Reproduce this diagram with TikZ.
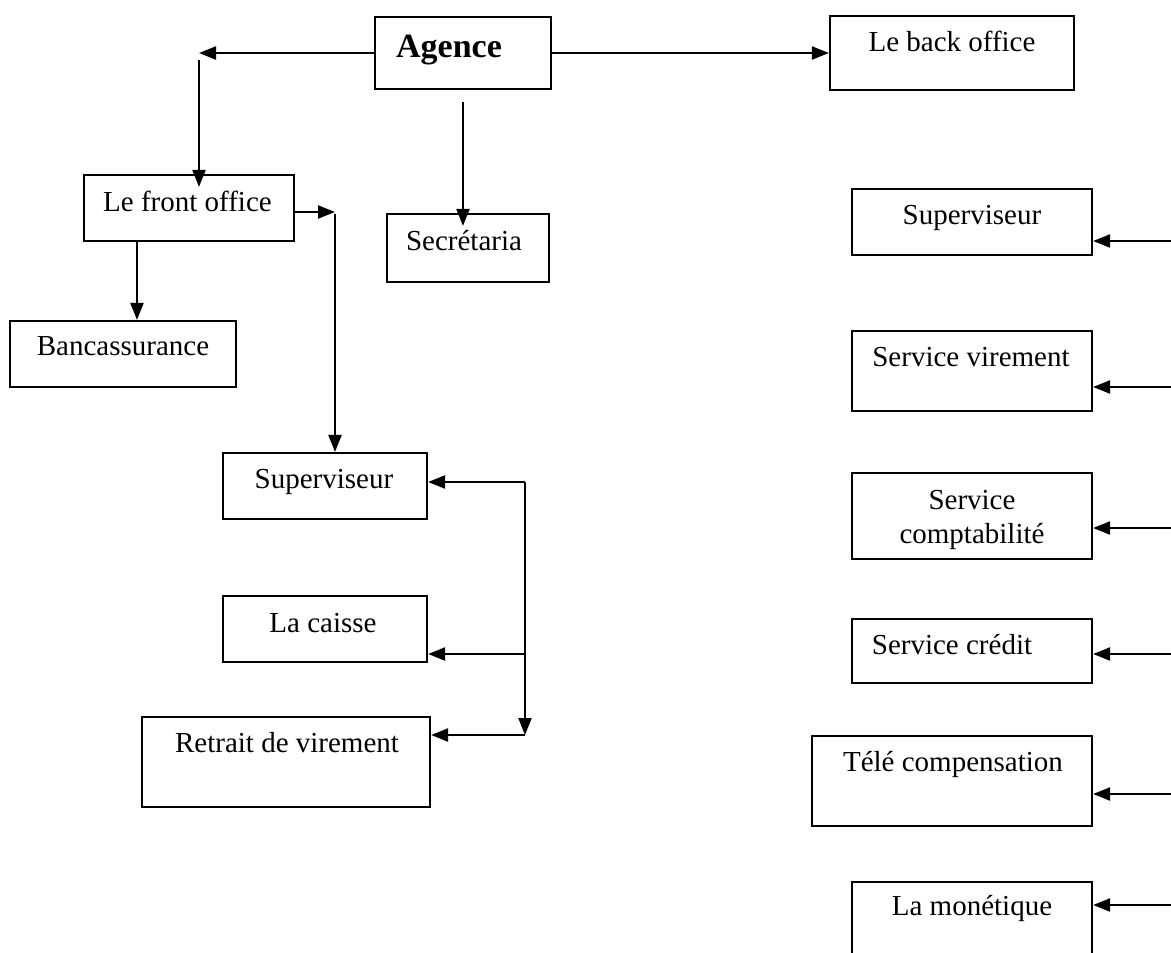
\documentclass[tikz,border=0pt]{standalone}
\usepackage{fontspec}
\setmainfont{Liberation Serif}
\usetikzlibrary{arrows.meta}

\begin{document}
\begin{tikzpicture}[x=1pt, y=-1pt,
  box/.style={draw, line width=2.2pt, inner sep=0pt, minimum width=#1},
  lbl/.style={anchor=base, inner sep=0pt, font=\fontsize{29}{34}\selectfont},
  conn/.style={line width=2.2pt, -{Triangle[length=17pt, width=13pt]}}
]
\useasboundingbox (0,0) rectangle (1171,953);
\clip (0,0) rectangle (1171,953);
\fill[white] (0,0) rectangle (1171,953);

% ---------- boxes ----------
\node[box=176pt, minimum height=72pt] (ag)  at (463,53)    {};
\node[box=244pt, minimum height=74pt] (bo)  at (952,53)    {};
\node[box=210pt, minimum height=66pt] (fo)  at (189,208)   {};
\node[box=162pt, minimum height=68pt] (sec) at (468,248)   {};
\node[box=226pt, minimum height=66pt] (ban) at (123,354)   {};
\node[box=204pt, minimum height=66pt] (sl)  at (325,486)   {};
\node[box=204pt, minimum height=66pt] (cai) at (325,629)   {};
\node[box=288pt, minimum height=90pt] (ret) at (286,762)   {};
\node[box=240pt, minimum height=66pt] (sr)  at (972,222)   {};
\node[box=240pt, minimum height=80pt] (vir) at (972,371)   {};
\node[box=240pt, minimum height=86pt] (cpt) at (972,516)   {};
\node[box=240pt, minimum height=64pt] (cre) at (972,651)   {};
\node[box=280pt, minimum height=90pt] (tel) at (952,781)   {};
\node[box=240pt, minimum height=80pt] (mon) at (972,922)   {};

% ---------- texts ----------
\node[anchor=base, inner sep=0pt, font=\fontsize{34}{40}\selectfont\bfseries] (ag-t) at (449,57) {Agence};
\node[lbl] (bo-t)   at (952,51)  {Le back office};
\node[lbl] (fo-t)   at (187.5,211) {Le front office};
\node[lbl] (sec-t)  at (464,250) {Secrétaria};
\node[lbl] (ban-t)  at (123,355) {Bancassurance};
\node[lbl] (sl-t)   at (324,488) {Superviseur};
\node[lbl] (cai-t)  at (323,632) {La caisse};
\node[lbl] (ret-t)  at (287,752) {Retrait de virement};
\node[lbl] (sr-t)   at (972,224) {Superviseur};
\node[lbl] (vir-t)  at (971,366) {Service virement};
\node[lbl] (cpt-t1) at (972,509) {Service};
\node[lbl] (cpt-t2) at (972,543) {comptabilité};
\node[lbl] (cre-t)  at (952,654) {Service crédit};
\node[lbl] (tel-t)  at (953,771) {Télé compensation};
\node[lbl] (mon-t)  at (972,915) {La monétique};

% ---------- junction points ----------
\coordinate (aL)  at (199,53);
\coordinate (aLd) at (199,60);
\coordinate (fR)  at (335,212);
\coordinate (fB)  at (137,0);
\coordinate (j1)  at (525,482);
\coordinate (j2)  at (525,654);
\coordinate (j3)  at (525,735);
\coordinate (r1)  at (1172,241);
\coordinate (r2)  at (1172,387);
\coordinate (r3)  at (1172,528);
\coordinate (r4)  at (1172,654);
\coordinate (r5)  at (1172,794);
\coordinate (r6)  at (1172,905);

% ---------- agence links ----------
\draw[conn] (ag.west) -- (aL);
\draw[conn] (aLd) -- ([yshift=-13pt]fo.north -| aLd);
\draw[conn] (ag.east) -- (bo.west |- ag.east);
\draw[conn] ([yshift=-12pt]ag.south) -- ([yshift=-13pt]sec.north -| ag.south);

% ---------- front office ----------
\draw[conn] (fo.east |- fR) -- (fR);
\draw[conn] ([yshift=-2pt]fR) -- (sl.north -| fR);
\draw[conn] (fo.south -| fB) -- (ban.north -| fB);

% ---------- front office services ----------
\draw[conn] (j1) -- (sl.east |- j1);
\draw[conn] (j2) -- (cai.east |- j2);
\draw[conn] (j3) -- (ret.east |- j3);
\draw[conn] (j1) -- (j3);

% ---------- back office services ----------
\draw[conn] (r1) -- (sr.east |- r1);
\draw[conn] (r2) -- (vir.east |- r2);
\draw[conn] (r3) -- (cpt.east |- r3);
\draw[conn] (r4) -- (cre.east |- r4);
\draw[conn] (r5) -- (tel.east |- r5);
\draw[conn] (r6) -- (mon.east |- r6);
\end{tikzpicture}
\end{document}
